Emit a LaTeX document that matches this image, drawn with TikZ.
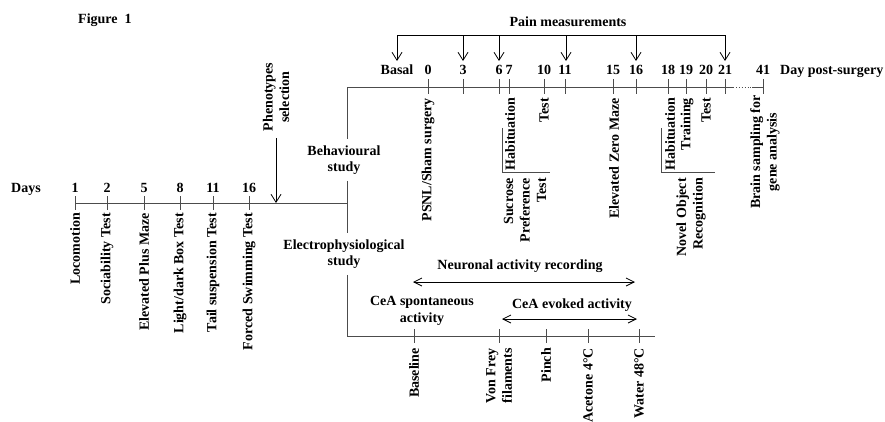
\documentclass[tikz,border=0pt]{standalone}
\usepackage{fontspec}
\setmainfont{Liberation Serif}
\usetikzlibrary{arrows.meta}

\begin{document}
\begin{tikzpicture}[x=1pt, y=-1pt,
  every node/.style={font=\fontsize{14}{16.5}\selectfont\bfseries, inner sep=1pt},
  tline/.style={draw=black!70, line width=0.9pt},
  marker/.style={draw=black!70, line width=0.9pt},
  pointer/.style={-{Straight Barb[length=8pt,width=10pt]}, line width=0.8pt},
  twoway/.style={{Straight Barb[length=8pt,width=8pt]}-{Straight Barb[length=8pt,width=8pt]}, line width=0.8pt},
  vtext/.style={rotate=90, anchor=east},
  gap/.style={align=center, inner sep=6pt}]

  \useasboundingbox (0,0) rectangle (885,421);

  \node[anchor=base west] (fig) at (77,23) {Figure\enspace 1};

  % phenotyping days
  \node[anchor=base] (days) at (26,192) {Days};
  \coordinate (lstart) at (75,203);
  \coordinate (lend) at (347,203);
  \draw[tline] (lstart) -- (lend);
  \foreach \x/\d/\t [count=\i] in {75/1/Locomotion, 107/2/Sociability Test,
      144/5/Elevated Plus Maze, 180/8/{Light/dark Box Test},
      213/11/Tail suspension Test, 249/16/Forced Swimming Test} {
    \draw[marker] (\x,196) -- (\x,210);
    \node[anchor=base] (ld\i) at (\x,192) {\d};
    \node[vtext] (lt\i) at (\x,212) {\t};
  }

  \node[rotate=90, align=center] (pheno) at (276,97) {Phenotypes\\selection};
  \coordinate (phenotop) at (276,138);
  \coordinate (phenotip) at (276,203);
  \draw[pointer] (phenotop) -- (phenotip);

  % split into the two studies
  \coordinate (top) at (347,87);
  \coordinate (bot) at (347,336);
  \node[gap] (beh) at (344,160) {Behavioural\\study};
  \node[gap] (ele) at (344,254) {Electrophysiological\\study};
  \draw[tline] (top) -- (top |- beh.north);
  \draw[tline] (top |- beh.south) -- (top |- ele.north);
  \draw[tline] (top |- ele.south) -- (bot);

  % behavioural timeline
  \coordinate (tdot1) at (733,87);
  \coordinate (tdot2) at (752,87);
  \coordinate (tend) at (763,87);
  \draw[tline] (top) -- (tdot1);
  \draw[tline, dotted] (tdot1) -- (tdot2);
  \draw[tline] (tdot2) -- (tend);
  \foreach \x/\d in {428/0, 463/3, 499/6, 509/7, 544/10, 565/11, 613/15,
      636/16, 668/18, 686/19, 706/20, 725/21, 763/41} {
    \draw[marker] (\x,79) -- (\x,94);
    \node[anchor=base] (td\d) at (\x,74) {\d};
  }
  \node[anchor=base] (basal) at (397,74) {Basal};
  \node[anchor=base west] (dps) at (779,74) {Day post-surgery};

  \node[anchor=base] (pain) at (568,26) {Pain measurements};
  \coordinate (pl) at (397,35);
  \coordinate (pr) at (725,35);
  \draw[line width=0.8pt] (pl) -- (pr);
  \foreach \x in {397,463,499,566,636,725}
    \draw[pointer] (\x,35) -- (\x,61);

  \node[vtext] (psnl) at (428,97) {PSNL/Sham surgery};
  \node[vtext] (hab1) at (510,97) {Habituation};
  \node[vtext] (test1) at (544,97) {Test};
  \node[vtext, align=right] (spt) at (525,177) {Sucrose\\Preference\\Test};
  \node[vtext] (ezm) at (614,97) {Elevated Zero Maze};
  \node[vtext] (hab2) at (670,97) {Habituation};
  \node[vtext] (train) at (687,97) {Training};
  \node[vtext] (test2) at (706,97) {Test};
  \node[vtext, align=right] (nor) at (691,177) {Novel Object\\Recognition};
  \node[vtext, align=center] (brain) at (765,94) {Brain sampling for\\gene analysis};

  \draw[tline] (502,128) -- (502,172) -- (550,172);
  \draw[tline] (661,128) -- (661,172) -- (715,172);

  % electrophysiology
  \node[anchor=base] (nar) at (520,269) {Neuronal activity recording};
  \coordinate (narl) at (413,282);
  \coordinate (narr) at (635,282);
  \draw[twoway] (narl) -- (narr);
  \node[align=center] (spont) at (422,311) {CeA spontaneous\\activity};
  \node[anchor=base] (evok) at (572,308) {CeA evoked activity};
  \coordinate (evl) at (502,319);
  \coordinate (evr) at (637,319);
  \draw[twoway] (evl) -- (evr);

  \coordinate (eend) at (655,336);
  \draw[tline] (bot) -- (eend);
  \foreach \x/\t [count=\i] in {414/Baseline, 499/{Von Frey\\filaments},
      546/Pinch, 588/Acetone 4°C, 639/Water 48°C} {
    \draw[marker] (\x,329) -- (\x,343);
    \node[vtext, align=center] (et\i) at (\x,347) {\t};
  }

\end{tikzpicture}
\end{document}
